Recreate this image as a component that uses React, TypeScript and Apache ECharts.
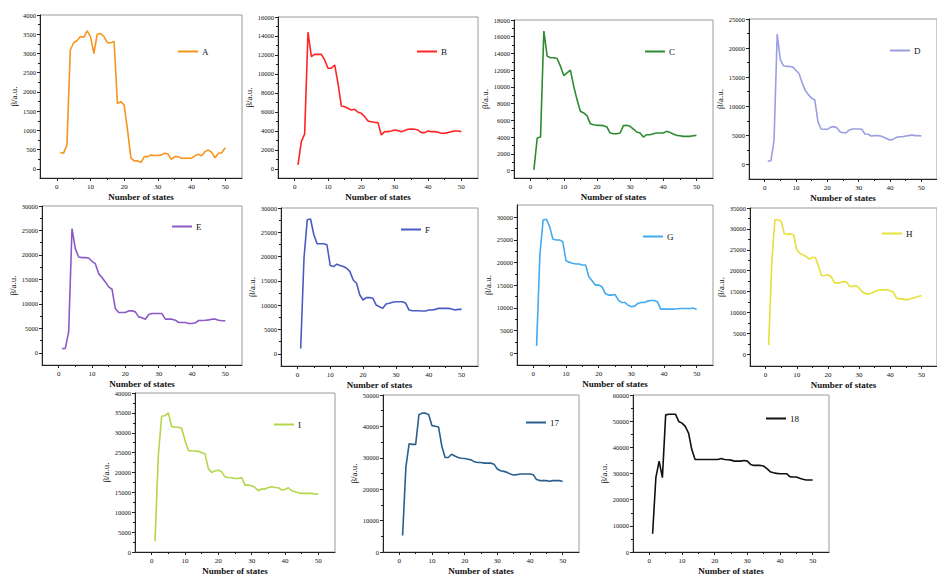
import React, { useEffect, useRef } from "react";
import * as echarts from "echarts";

const states = [1, 2, 3, 4, 5, 6, 7, 8, 9, 10, 11, 12, 13, 14, 15, 16, 17, 18, 19, 20, 21, 22, 23, 24, 25, 26, 27, 28, 29, 30, 31, 32, 33, 34, 35, 36, 37, 38, 39, 40, 41, 42, 43, 44, 45, 46, 47, 48, 49, 50];

const seriesNames = ["A", "B", "C", "D", "E", "F", "G", "H", "I", "17", "18"];

const valuesA = [430, 410, 620, 3090, 3280, 3330, 3440, 3420, 3590, 3440, 3000, 3500, 3520, 3440, 3280, 3280, 3310, 1700, 1750, 1660, 1010, 280, 210, 210, 170, 320, 320, 360, 350, 350, 360, 410, 390, 250, 320, 320, 280, 280, 280, 280, 340, 380, 340, 450, 490, 430, 290, 410, 420, 550];
const valuesB = [420, 2880, 3700, 14400, 11830, 12070, 12070, 12070, 11480, 10600, 10600, 10950, 9020, 6630, 6560, 6390, 6210, 6280, 5970, 5860, 5510, 5050, 4980, 4910, 4880, 3580, 3930, 3930, 4000, 4100, 4040, 3930, 4040, 4180, 4210, 4180, 4100, 3830, 3830, 4000, 3930, 3930, 3860, 3760, 3760, 3830, 3930, 4000, 4000, 3930];
const valuesC = [80, 3880, 4000, 16680, 13680, 13480, 13480, 13400, 12480, 11360, 11680, 12000, 10080, 8480, 7080, 6880, 6560, 5600, 5480, 5400, 5400, 5360, 5200, 4480, 4400, 4400, 4480, 5360, 5400, 5280, 4960, 4600, 4480, 4000, 4280, 4280, 4400, 4480, 4480, 4480, 4680, 4560, 4360, 4200, 4160, 4080, 4080, 4080, 4160, 4200];
const valuesD = [575, 630, 4200, 22400, 18000, 16960, 16850, 16850, 16730, 16160, 15580, 13970, 12700, 11960, 11390, 11100, 7360, 6100, 6040, 6040, 6380, 6500, 6330, 5640, 5460, 5460, 5920, 6100, 6100, 6100, 6040, 5230, 5180, 4890, 4950, 4950, 4890, 4660, 4430, 4200, 4310, 4660, 4770, 4770, 4890, 4950, 5060, 4950, 4950, 4890];
const valuesE = [880, 880, 4280, 25360, 21280, 19580, 19450, 19450, 19380, 18700, 18220, 16180, 15370, 14480, 13460, 12990, 9040, 8230, 8230, 8230, 8570, 8570, 8360, 7340, 7140, 6870, 7820, 8020, 8020, 8020, 8020, 6870, 6870, 6870, 6660, 6190, 6190, 6190, 5980, 5980, 6120, 6600, 6600, 6660, 6730, 6870, 6870, 6660, 6530, 6530];
const valuesF = [1100, 19680, 27590, 27730, 24490, 22640, 22640, 22640, 22430, 18160, 17960, 18440, 18160, 17960, 17610, 16920, 15200, 14520, 12110, 11080, 11560, 11560, 11420, 10040, 9700, 9360, 10250, 10390, 10600, 10730, 10730, 10730, 10390, 9010, 8880, 8880, 8880, 8810, 8810, 9010, 9010, 9150, 9360, 9360, 9360, 9360, 9220, 9010, 9150, 9150];
const valuesG = [1620, 21670, 29400, 29550, 27930, 25130, 24980, 24980, 24620, 20410, 20050, 19830, 19680, 19680, 19460, 19460, 16880, 15990, 15030, 15030, 14670, 13190, 12820, 12820, 12970, 11720, 11200, 11200, 10610, 10240, 10390, 10980, 11200, 11200, 11500, 11640, 11640, 11350, 9730, 9730, 9730, 9730, 9730, 9800, 9880, 9880, 9880, 9880, 9950, 9650];
const valuesH = [2240, 22210, 32200, 32200, 31800, 28840, 28760, 28760, 28600, 25010, 24210, 23810, 23410, 22770, 23170, 23170, 21010, 18780, 18860, 19020, 18620, 17180, 17020, 17180, 17420, 17260, 16220, 16220, 16460, 15820, 15020, 14460, 14460, 14620, 15020, 15260, 15420, 15420, 15420, 15180, 14860, 13420, 13260, 13260, 13020, 13180, 13420, 13580, 13820, 14060];
const valuesI = [2670, 24320, 34150, 34320, 34990, 31570, 31400, 31400, 31150, 28070, 25570, 25410, 25410, 25320, 24990, 24740, 20990, 19990, 20410, 20570, 20160, 18910, 18740, 18660, 18490, 18490, 18740, 16830, 16830, 16660, 16240, 15410, 15830, 15830, 16240, 16410, 16240, 16160, 15580, 15740, 16160, 15410, 15160, 14910, 14740, 14740, 14740, 14740, 14580, 14580];
const values17 = [5240, 26930, 34480, 34270, 34270, 43700, 44230, 44230, 43700, 40240, 40030, 39820, 33750, 30080, 30080, 31130, 30600, 30080, 29870, 29760, 29550, 29340, 28720, 28510, 28510, 28300, 28300, 28300, 27980, 26410, 25890, 25680, 25360, 24840, 24520, 24630, 24840, 24840, 24840, 24840, 24630, 23060, 22740, 22740, 22740, 22530, 22740, 22740, 22740, 22430];
const values18 = [6950, 28420, 34730, 28420, 52410, 52670, 52670, 52670, 49890, 49260, 47990, 45470, 39150, 35360, 35360, 35360, 35360, 35360, 35360, 35360, 35360, 35740, 35360, 35240, 35110, 34730, 34730, 34730, 34980, 34730, 33470, 33090, 33090, 33090, 32840, 31830, 30690, 30310, 30060, 29930, 29930, 29930, 28800, 28670, 28670, 28160, 27790, 27530, 27530, 27530];

const xTicks = [0, 10, 20, 30, 40, 50];
const xMinorTicks = [5, 15, 25, 35, 45];

const yTicksA = [0, 500, 1000, 1500, 2000, 2500, 3000, 3500, 4000];
const yTicksB = [0, 2000, 4000, 6000, 8000, 10000, 12000, 14000, 16000];
const yTicksC = [0, 2000, 4000, 6000, 8000, 10000, 12000, 14000, 16000, 18000];
const yTicksD = [0, 5000, 10000, 15000, 20000, 25000];
const yTicksE = [0, 5000, 10000, 15000, 20000, 25000, 30000];
const yTicksF = [0, 5000, 10000, 15000, 20000, 25000, 30000];
const yTicksG = [0, 5000, 10000, 15000, 20000, 25000, 30000];
const yTicksH = [0, 5000, 10000, 15000, 20000, 25000, 30000, 35000];
const yTicksI = [0, 5000, 10000, 15000, 20000, 25000, 30000, 35000, 40000];
const yTicks17 = [0, 10000, 20000, 30000, 40000, 50000];
const yTicks18 = [0, 10000, 20000, 30000, 40000, 50000, 60000];

const allValues = [valuesA, valuesB, valuesC, valuesD, valuesE, valuesF, valuesG, valuesH, valuesI, values17, values18];
const allTicks = [yTicksA, yTicksB, yTicksC, yTicksD, yTicksE, yTicksF, yTicksG, yTicksH, yTicksI, yTicks17, yTicks18];

const colors = ["#f7941d", "#ff2424", "#2e8b32", "#9a9fe0", "#8c5ac4", "#4a5bc4", "#41aaf0", "#e6e03a", "#b3d64a", "#2a5f8c", "#111111"];

const layouts = [
  { left: 40, top: 15, width: 202, height: 163, yMin: -235, yMax: 4000, lg: [178, 53] },
  { left: 278, top: 17, width: 200, height: 161, yMin: -950, yMax: 16000, lg: [417, 53] },
  { left: 514, top: 20, width: 199, height: 158, yMin: -900, yMax: 18000, lg: [645, 53] },
  { left: 749, top: 19, width: 198, height: 160, yMin: -2500, yMax: 25000, lg: [890, 52] },
  { left: 42, top: 206, width: 200, height: 159, yMin: -2500, yMax: 30000, lg: [172, 228] },
  { left: 281, top: 208, width: 197, height: 158, yMin: -2500, yMax: 30000, lg: [401, 231] },
  { left: 517, top: 205, width: 196, height: 160, yMin: -2600, yMax: 32700, lg: [643, 238] },
  { left: 750, top: 208, width: 196, height: 158, yMin: -2800, yMax: 35000, lg: [882, 235] },
  { left: 135, top: 393, width: 200, height: 161, yMin: 0, yMax: 40000, lg: [274, 426] },
  { left: 383, top: 395, width: 196, height: 159, yMin: 0, yMax: 50000, lg: [526, 424] },
  { left: 633, top: 395, width: 196, height: 159, yMin: 0, yMax: 60000, lg: [766, 420] },
];

const FONT = "Liberation Serif";
const plain = (v: number) => String(v);

function buildOption() {
  const grid: any[] = [];
  const xAxis: any[] = [];
  const yAxis: any[] = [];
  const series: any[] = [];
  const legend: any[] = [];
  layouts.forEach((L, i) => {
    grid.push({
      left: L.left, top: L.top, width: L.width, height: L.height,
      show: true, borderColor: "#9a9a9a", borderWidth: 1, backgroundColor: "transparent",
    });
    const ticks = allTicks[i];
    const minorY: number[] = [];
    for (let k = 0; k < ticks.length - 1; k++) minorY.push((ticks[k] + ticks[k + 1]) / 2);
    xAxis.push({
      type: "value", gridIndex: i, min: -5, max: 55, position: "bottom",
      name: "Number of states", nameLocation: "middle", nameGap: 14,
      nameTextStyle: { fontFamily: FONT, fontSize: 9, fontWeight: "bold", color: "#111" },
      axisLine: { onZero: false, lineStyle: { color: "#222", width: 1 } },
      axisTick: { customValues: xTicks, length: 3, lineStyle: { color: "#222" } },
      axisLabel: { customValues: xTicks, formatter: plain, fontFamily: FONT, fontSize: 7, color: "#111", margin: 5 },
      splitLine: { show: false },
    });
    xAxis.push({
      type: "value", gridIndex: i, min: -5, max: 55, position: "bottom",
      axisLine: { show: false, onZero: false },
      axisTick: { customValues: xMinorTicks, length: 2, lineStyle: { color: "#222" } },
      axisLabel: { show: false },
      splitLine: { show: false },
    });
    yAxis.push({
      type: "value", gridIndex: i, min: L.yMin, max: L.yMax, position: "left",
      name: "β/a.u.", nameLocation: "middle", nameGap: 22, nameRotate: 90,
      nameTextStyle: { fontFamily: FONT, fontSize: 9, color: "#111" },
      axisLine: { onZero: false, lineStyle: { color: "#222", width: 1 } },
      axisTick: { customValues: ticks, length: 3, lineStyle: { color: "#222" } },
      axisLabel: { customValues: ticks, formatter: plain, fontFamily: FONT, fontSize: 6.5, color: "#111", margin: 4 },
      splitLine: { show: false },
    });
    yAxis.push({
      type: "value", gridIndex: i, min: L.yMin, max: L.yMax, position: "left",
      axisLine: { show: false, onZero: false },
      axisTick: { customValues: minorY, length: 2, lineStyle: { color: "#222" } },
      axisLabel: { show: false },
      splitLine: { show: false },
    });
    const vals = allValues[i];
    series.push({
      type: "line", name: seriesNames[i], xAxisIndex: 2 * i, yAxisIndex: 2 * i,
      data: states.map((s, k) => [s, vals[k]]),
      symbol: "none", lineStyle: { color: colors[i], width: 1.6 }, itemStyle: { color: colors[i] },
      smooth: false,
    });
    legend.push({
      data: [seriesNames[i]], left: L.lg[0], top: L.lg[1] - 6, padding: 0,
      icon: "rect", itemWidth: 20, itemHeight: 2, selectedMode: false,
      textStyle: { fontFamily: FONT, fontSize: 9, color: "#111", padding: [0, 0, 0, -1] },
    });
  });
  return { animation: false, backgroundColor: "#ffffff", grid, xAxis, yAxis, series, legend };
}

export default function App() {
  const ref = useRef<HTMLDivElement>(null);
  useEffect(() => {
    if (!ref.current) return;
    const chart = echarts.init(ref.current, undefined, { renderer: "svg" });
    chart.setOption(buildOption() as any);
    return () => chart.dispose();
  }, []);
  return <div ref={ref} style={{ position: "fixed", left: 0, top: 0, width: 937, height: 576, background: "#fff" }} />;
}
